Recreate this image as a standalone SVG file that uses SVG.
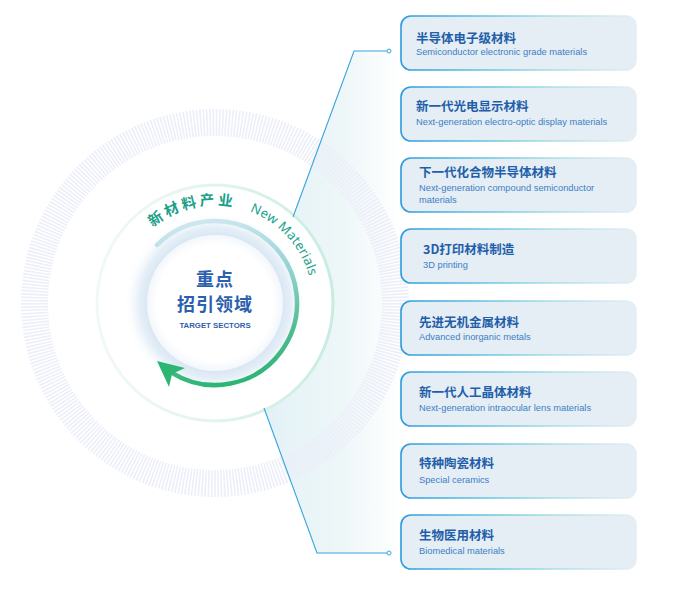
<svg xmlns="http://www.w3.org/2000/svg" xmlns:xlink="http://www.w3.org/1999/xlink" width="677" height="591" viewBox="0 0 677 591">
<style>
.card{fill:#e5edf5;stroke:url(#cardStroke);stroke-width:1.6}
.ttl{font-family:"Noto Sans CJK SC","Noto Sans",sans-serif;font-weight:700;font-size:12.5px;fill:#1f5fa9}
.sub{font-family:"Liberation Sans",Arial,sans-serif;font-size:9.3px;fill:#3b80c5}
.conn{fill:none;stroke:#3aa4de;stroke-width:1.1}
.dot{fill:#fff;stroke:#3aa4de;stroke-width:1}
.ctr{font-family:"Noto Sans CJK SC","Noto Sans",sans-serif;font-weight:700;fill:#2c60ae;text-anchor:middle}
</style>
<defs>
<linearGradient id="cardStroke" x1="0" y1="0" x2="1" y2="0">
<stop offset="0" stop-color="#2b9be0"/>
<stop offset="0.3" stop-color="#5bbfe0"/>
<stop offset="0.65" stop-color="#aadfe2"/>
<stop offset="1" stop-color="#e6eef5"/>
</linearGradient>
<linearGradient id="shade" gradientUnits="userSpaceOnUse" x1="260" y1="0" x2="400" y2="0">
<stop offset="0" stop-color="#e2f1f7"/>
<stop offset="0.6" stop-color="#eef7f8"/>
<stop offset="1" stop-color="#ffffff"/>
</linearGradient>
<linearGradient id="mint" gradientUnits="userSpaceOnUse" x1="97" y1="0" x2="335" y2="0">
<stop offset="0" stop-color="#f1f9f7"/>
<stop offset="0.5" stop-color="#e2f4ee"/>
<stop offset="1" stop-color="#c9ecdf"/>
</linearGradient>
<radialGradient id="glow" cx="215" cy="303" r="92" gradientUnits="userSpaceOnUse">
<stop offset="0.68" stop-color="#d2e3f1"/>
<stop offset="0.82" stop-color="#e4eef7"/>
<stop offset="1" stop-color="#ffffff" stop-opacity="0"/>
</radialGradient>
<radialGradient id="core" cx="215" cy="303" r="68" gradientUnits="userSpaceOnUse">
<stop offset="0.85" stop-color="#ffffff"/>
<stop offset="1" stop-color="#f3f7fb"/>
</radialGradient>
<linearGradient id="arcGrad" gradientUnits="userSpaceOnUse" x1="175" y1="220" x2="205" y2="388">
<stop offset="0" stop-color="#d3e8f2"/>
<stop offset="0.4" stop-color="#92d3d2"/>
<stop offset="0.75" stop-color="#4fbd90"/>
<stop offset="1" stop-color="#2db574"/>
</linearGradient>
<path id="txtArc" d="M139.93,240 A98,98 0 0,1 313,303"/>
</defs>
<rect width="677" height="591" fill="#ffffff"/>

<g id="background">
<polygon points="354,51 293,217 264,408 317,553 400,553 400,51" fill="url(#shade)"/>
<circle cx="215" cy="303" r="180.5" fill="none" stroke="#eceef9" stroke-width="27" stroke-dasharray="1.6 1.54"/>
<circle cx="215" cy="303" r="117" fill="#ffffff"/>
<circle cx="215" cy="303" r="118" fill="none" stroke="url(#mint)" stroke-width="3"/>
</g>

<g id="hub">
<circle cx="215" cy="303" r="92" fill="url(#glow)"/>
<circle cx="215" cy="303" r="68" fill="url(#core)"/>
<path d="M157.02,245.02 A82,82 0 1,1 171.55,372.54" fill="none" stroke="url(#arcGrad)" stroke-width="4.5" stroke-linecap="round"/>
<polygon points="157,361 185,368 172,374 169,387" fill="#2db574"/>
<text class="ctr" x="215" y="286" font-size="18" letter-spacing="1">重点</text>
<text class="ctr" x="215" y="311" font-size="18" letter-spacing="1">招引领域</text>
<text x="215" y="328" text-anchor="middle" font-family="'Liberation Sans',Arial,sans-serif" font-weight="700" font-size="7.8" fill="#2c60ae">TARGET SECTORS</text>
<text font-family="'Noto Sans CJK SC','Noto Sans',sans-serif" font-weight="700" font-size="14.5" fill="#1a9f88" letter-spacing="3"><textPath xlink:href="#txtArc" startOffset="18">新材料产业</textPath></text>
<text font-family="'Noto Sans','Liberation Sans',sans-serif" font-size="13.2" fill="#1aa28d" letter-spacing="0.2"><textPath xlink:href="#txtArc" startOffset="121">New Materials</textPath></text>
</g>

<g id="connectors">
<polyline class="conn" points="387,51 354,51 293,217"/>
<circle class="dot" cx="389" cy="51" r="2"/>
<polyline class="conn" points="264,408 317,553 387,553"/>
<circle class="dot" cx="389" cy="553" r="2"/>
</g>

<g id="card1">
<rect class="card" x="401" y="16" width="235" height="54" rx="10"/>
<text class="ttl" x="416" y="42.5">半导体电子级材料</text>
<text class="sub" x="416" y="55">Semiconductor electronic grade materials</text>
</g>
<g id="card2">
<rect class="card" x="401" y="87" width="235" height="54" rx="10"/>
<text class="ttl" x="416" y="111">新一代光电显示材料</text>
<text class="sub" x="416" y="125">Next-generation electro-optic display materials</text>
</g>
<g id="card3">
<rect class="card" x="401" y="158" width="235" height="54" rx="10"/>
<text class="ttl" x="419" y="176.5">下一代化合物半导体材料</text>
<text class="sub" x="419" y="191">Next-generation compound semiconductor</text>
<text class="sub" x="419" y="203">materials</text>
</g>
<g id="card4">
<rect class="card" x="401" y="229" width="235" height="54" rx="10"/>
<text class="ttl" x="423" y="253.5">3D打印材料制造</text>
<text class="sub" x="423" y="268">3D printing</text>
</g>
<g id="card5">
<rect class="card" x="401" y="301" width="235" height="54" rx="10"/>
<text class="ttl" x="419" y="326.5">先进无机金属材料</text>
<text class="sub" x="419" y="340">Advanced inorganic metals</text>
</g>
<g id="card6">
<rect class="card" x="401" y="372" width="235" height="54" rx="10"/>
<text class="ttl" x="419" y="396.5">新一代人工晶体材料</text>
<text class="sub" x="419" y="411">Next-generation intraocular lens materials</text>
</g>
<g id="card7">
<rect class="card" x="401" y="444" width="235" height="54" rx="10"/>
<text class="ttl" x="419" y="467.5">特种陶瓷材料</text>
<text class="sub" x="419" y="483">Special ceramics</text>
</g>
<g id="card8">
<rect class="card" x="401" y="515" width="235" height="54" rx="10"/>
<text class="ttl" x="419" y="539.5">生物医用材料</text>
<text class="sub" x="419" y="554">Biomedical materials</text>
</g>
</svg>
